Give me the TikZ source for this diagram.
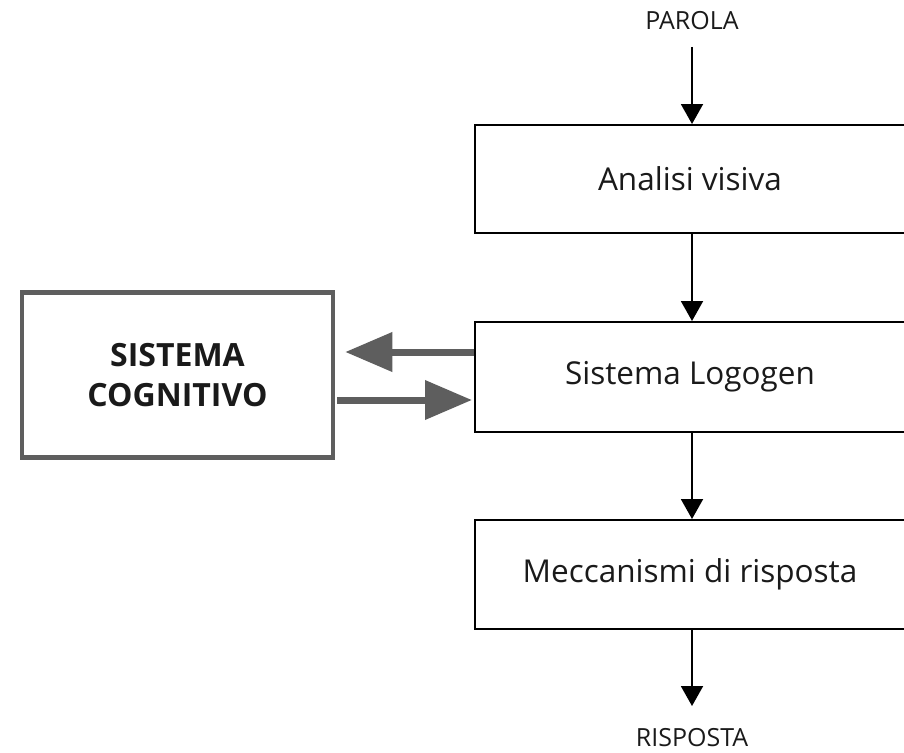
\documentclass[tikz,border=0pt]{standalone}
\usepackage{fontspec}
\setmainfont{Open Sans}
\usetikzlibrary{arrows.meta}
\definecolor{gbox}{HTML}{5E5E5E}
\definecolor{txt}{HTML}{1A1A1A}
\tikzset{
  stagebox/.style={draw=black, line width=2pt, fill=white, minimum width=430pt, text=txt, font=\fontsize{31.5}{36}\selectfont},
  cogbox/.style={draw=gbox, line width=4.5pt, minimum width=311pt, minimum height=165pt, align=center, text=txt, font=\fontsize{32}{40}\selectfont\bfseries},
  label/.style={text=txt, font=\fontsize{25}{28}\selectfont},
  barrow/.style={draw=black, line width=2pt, -{Triangle[length=20pt,width=22pt]}},
  garrow/.style={draw=gbox, line width=7pt, -{Triangle[length=47pt,width=38pt]}}
}
\begin{document}
\begin{tikzpicture}[x=1pt,y=-1pt]
\path[use as bounding box] (0,0) rectangle (904,752);
\clip (0,0) rectangle (904,752);
\node[label] (par) at (692,21) {PAROLA};
\node[stagebox, minimum height=108pt] (av) at (690,179) {Analisi visiva};
\node[stagebox, minimum height=110pt] (lg) at (690,377) {Sistema Logogen};
\node[stagebox, minimum height=109pt] (mr) at (690,574.5) {Meccanismi di risposta};
\node[label] (ris) at (692,738) {RISPOSTA};
\node[cogbox] (sc) at (177.5,375) {SISTEMA\\COGNITIVO};
\coordinate (parb) at (692,47);
\coordinate (rist) at (692,706);
\draw[barrow] (parb) -- (parb |- av.north);
\draw[barrow] (parb |- av.south) -- (parb |- lg.north);
\draw[barrow] (parb |- lg.south) -- (parb |- mr.north);
\draw[barrow] (parb |- mr.south) -- (rist);
\draw[garrow, shorten >=10pt] ([yshift=25pt]lg.west) -- ([yshift=25pt]lg.west -| sc.east);
\draw[garrow, shorten <=2pt, shorten >=2pt] ([yshift=-25pt]sc.east) -- ([yshift=-25pt]sc.east -| lg.west);
\end{tikzpicture}
\end{document}
